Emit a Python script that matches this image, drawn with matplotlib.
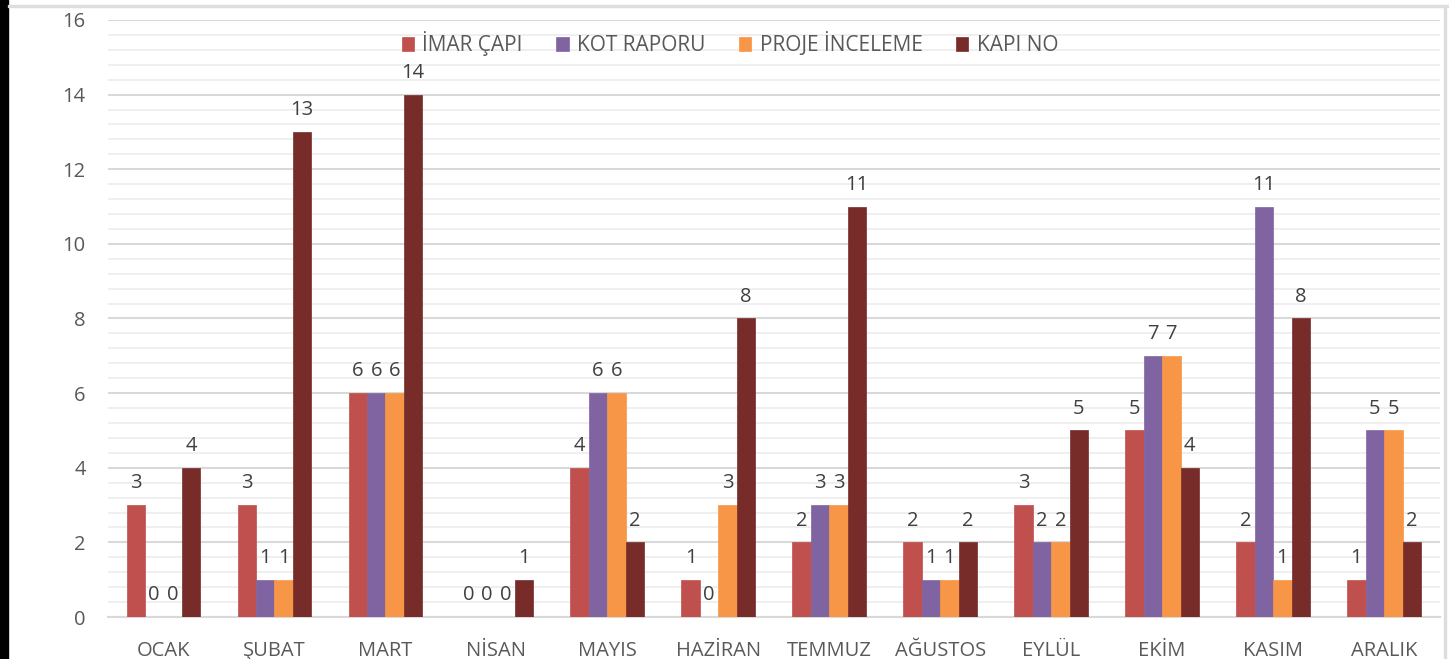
import matplotlib
matplotlib.use("Agg")
import matplotlib.pyplot as plt
import numpy as np
from matplotlib.patches import Rectangle
from matplotlib.ticker import MultipleLocator

months = ["OCAK", "ŞUBAT", "MART", "NİSAN", "MAYIS", "HAZİRAN", "TEMMUZ",
          "AĞUSTOS", "EYLÜL", "EKİM", "KASIM", "ARALIK"]
series_names = ["İMAR ÇAPI", "KOT RAPORU", "PROJE İNCELEME", "KAPI NO"]
imar_capi = [3, 3, 6, 0, 4, 1, 2, 2, 3, 5, 2, 1]
kot_raporu = [0, 1, 6, 0, 6, 0, 3, 1, 2, 7, 11, 5]
proje_inceleme = [0, 1, 6, 0, 6, 3, 3, 1, 2, 7, 1, 5]
kapi_no = [4, 13, 14, 1, 2, 8, 11, 2, 5, 4, 8, 2]
series = [imar_capi, kot_raporu, proje_inceleme, kapi_no]
colors = ["#C0504D", "#8064A2", "#F79646", "#772C2A"]
y_ticks = [0, 2, 4, 6, 8, 10, 12, 14, 16]

plt.rcParams['font.family'] = ['Open Sans', 'DejaVu Sans']
txt = "#595959"

fig = plt.figure(figsize=(14.49, 6.59), dpi=100)
ax = fig.add_axes([0.0745, 0.0637, 0.919, 0.906])

n = len(series)
bw = 0.166
x = np.arange(len(months))
for i, (vals, c, name) in enumerate(zip(series, colors, series_names)):
    off = (i - (n - 1) / 2) * bw
    ax.bar(x + off, vals, width=bw, color=c, label=name, zorder=3,
           edgecolor=c, linewidth=0.5)
    for xi, v in zip(x + off, vals):
        ax.annotate(str(v), (xi, v), xytext=(0, 8.5), textcoords="offset points",
                    ha="center", va="bottom", fontsize=14.5, color="#404040")

ax.set_xlim(-0.5, len(months) - 0.5)
ax.set_ylim(0, 16)
ax.set_yticks(y_ticks)
ax.yaxis.set_minor_locator(MultipleLocator(0.4))
ax.set_xticks(x)
ax.set_xticklabels(months)
ax.tick_params(axis="both", which="both", length=0)
ax.tick_params(axis="both", labelsize=14.5, labelcolor=txt)
ax.tick_params(axis="x", pad=17)
ax.tick_params(axis="y", pad=16)
ax.grid(axis="y", which="major", color="#D9D9D9", linewidth=1.5, zorder=0)
ax.grid(axis="y", which="minor", color="#EEEEEE", linewidth=1.3, zorder=0)
for s in ["top", "left", "right"]:
    ax.spines[s].set_visible(False)
ax.spines["bottom"].set_color("#D9D9D9")
ax.spines["bottom"].set_linewidth(1.5)

ax.legend(loc="upper center", bbox_to_anchor=(0.467, 1.0), ncol=4,
          frameon=False, fontsize=15, handlelength=0.6, handleheight=0.6,
          handletextpad=0.4, columnspacing=1.6, labelcolor=txt,
          borderaxespad=0.15)

fig.patches.append(Rectangle((0, 0), 8 / 1449, 1, transform=fig.transFigure,
                             color="black", zorder=10))
fig.patches.append(Rectangle((1444 / 1449, 0), 2 / 1449, 1 - 8 / 659,
                             transform=fig.transFigure, color="#DDDDDD", zorder=10))
fig.patches.append(Rectangle((8 / 1449, 1 - 7 / 659), 1, 2 / 659,
                             transform=fig.transFigure, color="#DDDDDD", zorder=10))

fig.savefig("out.png", dpi=100)
